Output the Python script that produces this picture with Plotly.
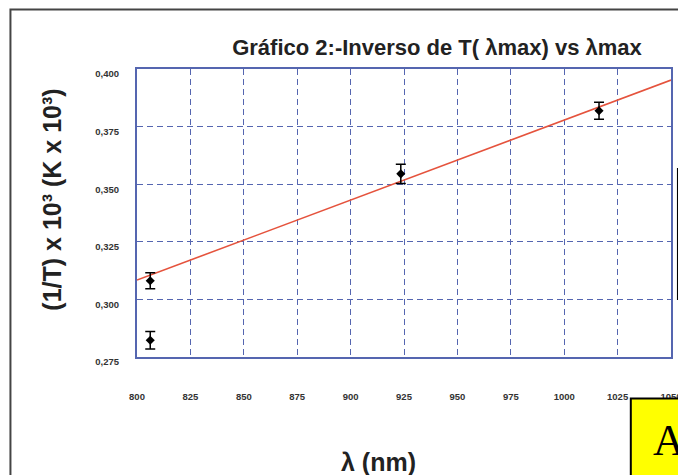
import plotly.graph_objects as go

# ---- data ----
wavelength_nm = [806.2, 806.2, 923.5, 1016.3]
inv_T = [0.3081, 0.2823, 0.3545, 0.3819]
inv_T_err = [0.0035, 0.0038, 0.0042, 0.0037]

fit_x = [800, 1050]
fit_y = [0.3084, 0.3952]

x_ticks = [800, 825, 850, 875, 900, 925, 950, 975, 1000, 1025, 1050]
x_tick_labels = ["800", "825", "850", "875", "900", "925", "950", "975", "1000", "1025", "1050"]
y_ticks = [0.275, 0.300, 0.325, 0.350, 0.375, 0.400]
y_tick_labels = ["0,275", "0,300", "0,325", "0,350", "0,375", "0,400"]

title_text = "Gráfico 2:-Inverso de T( λmax) vs λmax"
y_title = "(1/T) x 10³ (K x 10³)"
x_title = "λ (nm)"

# ---- layout geometry ----
# the page body adds an 8px offset, so figure pixel = screen pixel - 8
OFF = 8
W, H = 686, 475
PLOT_L, PLOT_R, PLOT_T, PLOT_B = 137, 675, 69, 357   # screen pixels
L = PLOT_L - OFF
T = PLOT_T - OFF
R = W - (PLOT_R - OFF)
B = H - (PLOT_B - OFF)
PW, PH = W - L - R, H - T - B


def px(xs):
    return (xs - OFF - L) / PW


def py(ys):
    return (H - B - (ys - OFF)) / PH


GRID = "#5566b0"
FONT = "Liberation Sans, Arial, sans-serif"

fig = go.Figure()

fig.add_trace(go.Scatter(
    x=fit_x, y=fit_y, mode="lines",
    line=dict(color="#e5533d", width=1.6),
    showlegend=False, hoverinfo="skip",
))

fig.add_trace(go.Scatter(
    x=wavelength_nm, y=inv_T, mode="markers",
    marker=dict(symbol="diamond", size=7, color="black"),
    error_y=dict(type="data", array=inv_T_err, visible=True,
                 color="black", thickness=1.5, width=5),
    showlegend=False,
))

axis_common = dict(
    showgrid=True, gridcolor=GRID, gridwidth=1.3, griddash="6px,4px",
    showline=True, linecolor=GRID, linewidth=2, mirror=True,
    zeroline=False, ticks="",
    tickfont=dict(family=FONT, size=9.5, color="#333333", weight="bold"),
)

fig.update_layout(
    width=W, height=H,
    margin=dict(l=L, r=R, t=T, b=B, pad=0),
    paper_bgcolor="white", plot_bgcolor="white",
    title=dict(text=title_text, xref="container", x=(437 - OFF) / W, xanchor="center",
               yref="container", y=1 - (47 - OFF) / H, yanchor="middle",
               font=dict(family=FONT, size=22, color="#222222", weight="bold")),
    xaxis=dict(range=[800, 1050], tickvals=x_ticks, ticktext=x_tick_labels,
               ticklabelstandoff=30, **axis_common),
    yaxis=dict(range=[0.275, 0.400], tickvals=y_ticks, ticktext=y_tick_labels,
               ticklabelstandoff=14, ticklabelshift=5, **axis_common),
    showlegend=False,
)

# axis titles as annotations
fig.add_annotation(text=y_title, x=px(51), y=py(200), xref="paper", yref="paper",
                   textangle=-90, showarrow=False, xanchor="center", yanchor="middle",
                   font=dict(family=FONT, size=25, color="#222222", weight="bold"))
fig.add_annotation(text=x_title, x=px(380), y=py(462), xref="paper", yref="paper",
                   showarrow=False, xanchor="center", yanchor="middle",
                   font=dict(family=FONT, size=25, color="#222222", weight="bold"))

# outer frame
fig.add_shape(type="rect", xref="paper", yref="paper",
              x0=px(9.5), x1=px(720), y0=py(520), y1=py(9.5),
              line=dict(color="#444444", width=2), fillcolor="rgba(0,0,0,0)")

# cut-off legend box at right
fig.add_shape(type="rect", xref="paper", yref="paper",
              x0=px(682), x1=px(720), y0=py(299), y1=py(169),
              line=dict(color="black", width=2), fillcolor="white")
for yy in (215, 257):
    fig.add_shape(type="line", xref="paper", yref="paper",
                  x0=px(682), x1=px(720), y0=py(yy), y1=py(yy),
                  line=dict(color="black", width=2))

# yellow label box
fig.add_shape(type="rect", xref="paper", yref="paper",
              x0=px(634.5), x1=px(720), y0=py(520), y1=py(398.5),
              line=dict(color="black", width=2), fillcolor="#ffff00")
fig.add_annotation(text="A", x=px(673), y=py(440), xref="paper", yref="paper",
                   showarrow=False, xanchor="center", yanchor="middle",
                   font=dict(family="Liberation Serif, Times New Roman, serif", size=44, color="black"))

fig.write_html("out.html")
